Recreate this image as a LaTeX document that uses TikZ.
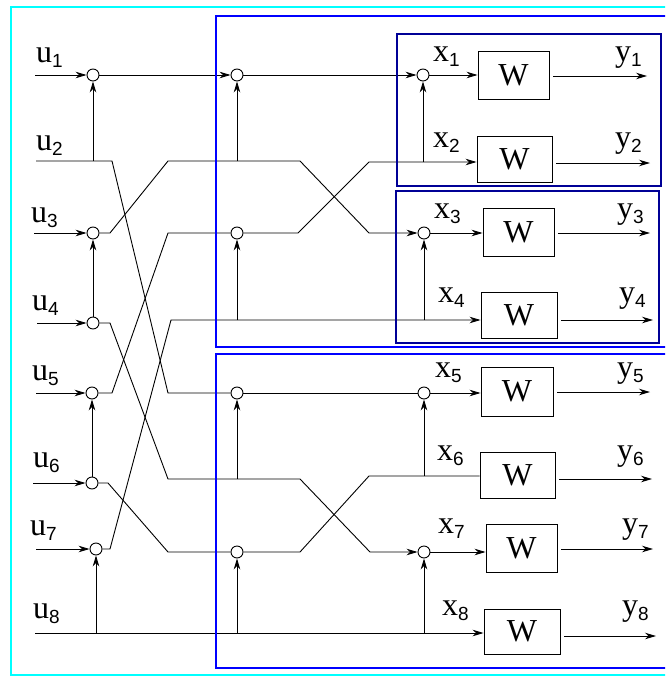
\documentclass[tikz,border=0pt]{standalone}
\usepackage{fontspec}
\setmainfont{Liberation Serif}
\newfontfamily\subfont{Liberation Sans}
\usetikzlibrary{arrows.meta}
\definecolor{bordercyan}{RGB}{0,255,255}
\definecolor{boxblue}{RGB}{0,0,255}
\definecolor{navyblue}{RGB}{0,0,150}
\newcommand\lab[2]{#1\raisebox{-5pt}{\fontsize{19}{19}\subfont #2}}
\begin{document}
\begin{tikzpicture}[x=1pt,y=-1pt,
  >={Stealth[length=11pt,width=6.5pt,inset=3.5pt]},
  sig/.style={line width=0.9pt},
  sumnode/.style={circle,draw,fill=white,minimum size=12pt,inner sep=0pt,line width=0.9pt},
  wbox/.style={draw,line width=0.9pt,inner sep=0pt,font=\fontsize{32}{34}\selectfont},
  lbl/.style={anchor=base west,inner sep=0pt,font=\fontsize{32}{34}\selectfont},
  outerframe/.style={line width=2pt}]
\useasboundingbox (0,0) rectangle (665,677);
\clip (0,0) rectangle (665,677);

% input start coordinates
\coordinate (i1) at (35,75);
\coordinate (i2) at (36,161);
\coordinate (i3) at (34,233);
\coordinate (i4) at (37,323);
\coordinate (i5) at (36,393);
\coordinate (i6) at (33,483);
\coordinate (i7) at (36,549);
\coordinate (i8) at (35,633);

% stage 1 adders
\node[sumnode] (c1) at (93,75) {};
\node[sumnode] (c3) at (93,233) {};
\node[sumnode] (c4) at (93,323) {};
\node[sumnode] (c5) at (92,393) {};
\node[sumnode] (c6) at (92,483) {};
\node[sumnode] (c7) at (96,549) {};
% stage 2 adders
\node[sumnode] (s1) at (237,75) {};
\node[sumnode] (s3) at (237,233) {};
\node[sumnode] (s5) at (237,393) {};
\node[sumnode] (s7) at (237,552) {};
% stage 3 adders
\node[sumnode] (t1) at (423,75) {};
\node[sumnode] (t3) at (424,233) {};
\node[sumnode] (t5) at (424,393) {};
\node[sumnode] (t7) at (424,552) {};

% W boxes
\node[wbox,minimum width=71pt,minimum height=48pt] (w1) at (513.5,75) {W};
\node[wbox,minimum width=75pt,minimum height=46pt] (w2) at (514.5,159) {W};
\node[wbox,minimum width=71pt,minimum height=48pt] (w3) at (518.5,232) {W};
\node[wbox,minimum width=76pt,minimum height=46pt] (w4) at (519,315) {W};
\node[wbox,minimum width=72pt,minimum height=49pt] (w5) at (517,391.5) {W};
\node[wbox,minimum width=75pt,minimum height=46pt] (w6) at (517.5,475) {W};
\node[wbox,minimum width=71pt,minimum height=48pt] (w7) at (521.5,548) {W};
\node[wbox,minimum width=76pt,minimum height=45pt] (w8) at (522,631.5) {W};

% bend coordinates
\coordinate (k2) at (168,161);
\coordinate (k4) at (171,320);
\coordinate (k6) at (168,479);
\coordinate (k2b) at (369,162);
\coordinate (k6b) at (369,476);

% output end coordinates
\coordinate (o1) at (647,76);
\coordinate (o2) at (650,163);
\coordinate (o3) at (650,233);
\coordinate (o4) at (653,320);
\coordinate (o5) at (650,392);
\coordinate (o6) at (652,479);
\coordinate (o7) at (653,549);
\coordinate (o8) at (656,636);

\begin{scope}[sig]
% stage 1 inputs
\draw[->] (i1) -- (c1);
\draw (i2) -- (112,161) -- (168,393) -- (s5);
\draw[->] (i3) -- (c3);
\draw[->] (i4) -- (c4);
\draw[->] (i5) -- (c5);
\draw[->] (i6) -- (c6);
\draw[->] (i7) -- (c7);
\draw[->] (i8) -- (i8 -| w8.west);
% stage 1 verticals
\draw[->] (c1 |- i2) -- (c1);
\draw[->] (c4) -- (c3);
\draw[->] (c6) -- (c5);
\draw[->] (c7 |- i8) -- (c7);
% stage 1 outputs / permutation
\draw[->] (c1) -- (s1);
\draw[->] (c3) -- (110,233) -- (k2) -- (300,161) -- (369,233) -- (t3);
\draw[->] (c4) -- (110,323) -- (k6) -- (300,479) -- (370,552) -- (t7);
\draw (c5) -- (112,393) -- (168,233) -- (s3);
\draw (c6) -- (108,483) -- (168,552) -- (s7);
\draw[->] (c7) -- (110,549) -- (k4) -- (k4 -| w4.west);
% stage 2 verticals
\draw[->] (s1 |- k2) -- (s1);
\draw[->] (s3 |- k4) -- (s3);
\draw[->] (s5 |- k6) -- (s5);
\draw[->] (s7 |- i8) -- (s7);
% stage 2 outputs
\draw[->] (s1) -- (t1);
\draw[->] (s3) -- (298,233) -- (k2b) -- (k2b -| w2.west);
\draw (s5) -- (t5);
\draw (s7) -- (300,552) -- (k6b) -- (k6b -| w6.west);
% stage 3 verticals
\draw[->] (t1 |- k2b) -- (t1);
\draw[->] (t3 |- k4) -- (t3);
\draw[->] (t5 |- k6b) -- (t5);
\draw[->] (t7 |- i8) -- (t7);
% stage 3 outputs
\draw[->] (t1) -- (t1 -| w1.west);
\draw[->] (t3) -- (t3 -| w3.west);
\draw[->] (t5) -- (t5 -| w5.west);
\draw[->] (t7) -- (t7 -| w7.west);
% outputs
\draw[->] ([xshift=4pt]w1.east |- o1) -- (o1);
\draw[->] ([xshift=4pt]w2.east |- o2) -- (o2);
\draw[->] ([xshift=4pt]w3.east |- o3) -- (o3);
\draw[->] ([xshift=4pt]w4.east |- o4) -- (o4);
\draw[->] ([xshift=4pt]w5.east |- o5) -- (o5);
\draw[->] ([xshift=4pt]w6.east |- o6) -- (o6);
\draw[->] ([xshift=4pt]w7.east |- o7) -- (o7);
\draw[->] ([xshift=4pt]w8.east |- o8) -- (o8);
\end{scope}

% labels
\node[lbl] (lu1) at (36,63) {\lab{u}{1}};
\node[lbl] (lu2) at (36,150) {\lab{u}{2}};
\node[lbl] (lu3) at (31,222) {\lab{u}{3}};
\node[lbl] (lu4) at (32,310) {\lab{u}{4}};
\node[lbl] (lu5) at (32,380) {\lab{u}{5}};
\node[lbl] (lu6) at (33,467) {\lab{u}{6}};
\node[lbl] (lu7) at (30,535) {\lab{u}{7}};
\node[lbl] (lu8) at (33,618) {\lab{u}{8}};
\node[lbl] (lx1) at (433,62) {\lab{x}{1}};
\node[lbl] (lx2) at (433,147) {\lab{x}{2}};
\node[lbl] (lx3) at (434,218) {\lab{x}{3}};
\node[lbl] (lx4) at (438,302) {\lab{x}{4}};
\node[lbl] (lx5) at (435,377) {\lab{x}{5}};
\node[lbl] (lx6) at (437,460) {\lab{x}{6}};
\node[lbl] (lx7) at (438,533) {\lab{x}{7}};
\node[lbl] (lx8) at (442,615) {\lab{x}{8}};
\node[lbl] (ly1) at (615,62) {\lab{y}{1}};
\node[lbl] (ly2) at (615,147) {\lab{y}{2}};
\node[lbl] (ly3) at (617,218) {\lab{y}{3}};
\node[lbl] (ly4) at (619,302) {\lab{y}{4}};
\node[lbl] (ly5) at (617,377) {\lab{y}{5}};
\node[lbl] (ly6) at (617,460) {\lab{y}{6}};
\node[lbl] (ly7) at (622,533) {\lab{y}{7}};
\node[lbl] (ly8) at (622,615) {\lab{y}{8}};

% frames
\draw[outerframe,bordercyan] (11,7) rectangle (672,675);
\draw[outerframe,boxblue] (216,16) rectangle (672,347);
\draw[outerframe,boxblue] (216,354) rectangle (672,668);
\draw[outerframe,navyblue,line width=2.2pt] (397,34) rectangle (661,186);
\draw[outerframe,navyblue,line width=2.2pt] (396,191) rectangle (659,343);
\end{tikzpicture}
\end{document}
